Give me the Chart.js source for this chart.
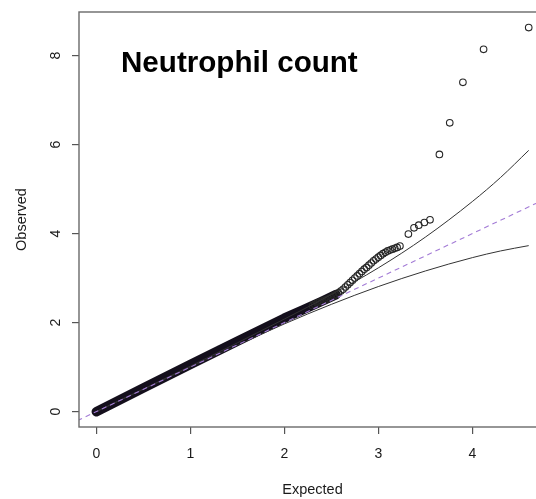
<!DOCTYPE html>
<html>
<head>
<meta charset="utf-8">
<title>Neutrophil count QQ plot</title>
<script src="https://cdn.jsdelivr.net/npm/chart.js@4/dist/chart.umd.min.js"></script>
<style>
  html, body { margin: 0; padding: 0; background: #ffffff; overflow: hidden; }
  #wrap { width: 536px; height: 499px; overflow: hidden; }
</style>
</head>
<body>
<div id="wrap"><canvas id="qq" width="560" height="499"></canvas></div>
<script>
// QQ plot data (expected vs observed -log10 p)

var xTickValues = [0, 1, 2, 3, 4];
var yTickValues = [0, 2, 4, 6, 8];

// solid dense stretch of overlapping points near the diagonal
var bandX = [0.00, 0.50, 1.00, 1.50, 2.00, 2.20, 2.40, 2.55];
var bandY = [0.00, 0.53, 1.06, 1.58, 2.10, 2.29, 2.48, 2.63];

// individual points where they start to separate
var pointX = [2.30, 2.325, 2.35, 2.375, 2.40, 2.425, 2.45, 2.475, 2.50, 2.525, 2.55, 2.575,
  2.60, 2.625, 2.65, 2.675, 2.70, 2.725, 2.75, 2.775, 2.80, 2.825, 2.85, 2.875, 2.90,
  2.925, 2.95, 2.975, 3.00, 3.025, 3.05, 3.075, 3.10, 3.125, 3.15, 3.175, 3.20, 3.23,
  3.32, 3.38, 3.43, 3.49, 3.55, 3.65, 3.76, 3.90, 4.12, 4.60];
var pointY = [2.38, 2.41, 2.44, 2.46, 2.48, 2.50, 2.52, 2.54, 2.57, 2.60, 2.63, 2.67,
  2.71, 2.75, 2.80, 2.85, 2.90, 2.95, 3.00, 3.05, 3.10, 3.15, 3.20, 3.24, 3.29,
  3.34, 3.39, 3.43, 3.47, 3.51, 3.55, 3.58, 3.61, 3.63, 3.65, 3.67, 3.69, 3.72,
  3.99, 4.13, 4.19, 4.25, 4.31, 5.78, 6.49, 7.40, 8.14, 8.63];

// confidence band curves
var upperX = [0.00, 1.00, 2.00, 2.50, 3.00, 3.50, 4.00, 4.30, 4.60];
var upperY = [0.00, 1.02, 2.08, 2.63, 3.23, 3.92, 4.72, 5.26, 5.87];
var lowerX = [0.00, 1.00, 2.00, 2.50, 3.00, 3.50, 4.00, 4.30, 4.60];
var lowerY = [0.00, 1.00, 1.97, 2.41, 2.81, 3.16, 3.46, 3.61, 3.73];

// y = x reference line
var diagX = [-0.2, 4.8];
var diagY = [-0.2, 4.8];

var xMin = -0.184, xMax = 4.784;
var yMin = -0.345, yMax = 8.979;

var FONT = '"Liberation Sans", Arial, Helvetica, sans-serif';
var textColor = '#1a1a1a';

function toPoints(xs, ys) {
  var out = [];
  for (var i = 0; i < xs.length; i++) {
    out.push({ x: xs[i], y: ys[i] });
  }
  return out;
}

// box, rotated y labels, axis titles and the in-plot title
var decorPlugin = {
  id: 'decor',
  afterDraw: function(chart) {
    var ctx = chart.ctx;
    var area = chart.chartArea;
    var yScale = chart.scales.y;

    ctx.save();
    ctx.strokeStyle = '#6a6a6a';
    ctx.lineWidth = 1.4;
    ctx.strokeRect(area.left, area.top, area.right - area.left, area.bottom - area.top);

    ctx.fillStyle = textColor;
    ctx.font = '14px ' + FONT;
    ctx.textAlign = 'center';
    ctx.textBaseline = 'alphabetic';
    yTickValues.forEach(function(v) {
      var py = yScale.getPixelForValue(v);
      ctx.save();
      ctx.translate(60, py);
      ctx.rotate(-Math.PI / 2);
      ctx.fillText(String(v), 0, 0);
      ctx.restore();
    });

    ctx.font = '14.5px ' + FONT;
    ctx.save();
    ctx.translate(25.5, (area.top + area.bottom) / 2);
    ctx.rotate(-Math.PI / 2);
    ctx.fillText('Observed', 0, 0);
    ctx.restore();

    ctx.fillText('Expected', (area.left + area.right) / 2, 493.5);

    ctx.font = 'bold 29.6px ' + FONT;
    ctx.textAlign = 'left';
    ctx.fillStyle = '#000000';
    ctx.fillText('Neutrophil count', 121, 71.7);
    ctx.restore();
  }
};

var ctx = document.getElementById('qq');

var chart = new Chart(ctx, {
  type: 'scatter',
  data: {
    datasets: [{
      label: 'y = x',
      type: 'line',
      data: toPoints(diagX, diagY),
      borderColor: '#a37bd6',
      borderWidth: 1.1,
      borderDash: [5, 4],
      pointRadius: 0,
      fill: false,
      order: 0
    }, {
      label: 'upper',
      type: 'line',
      data: toPoints(upperX, upperY),
      borderColor: '#333333',
      borderWidth: 1,
      pointRadius: 0,
      cubicInterpolationMode: 'monotone',
      fill: false,
      order: 1
    }, {
      label: 'lower',
      type: 'line',
      data: toPoints(lowerX, lowerY),
      borderColor: '#333333',
      borderWidth: 1,
      pointRadius: 0,
      cubicInterpolationMode: 'monotone',
      fill: false,
      order: 1
    }, {
      label: 'points',
      data: toPoints(pointX, pointY),
      pointRadius: 3.3,
      pointBorderWidth: 1.1,
      pointBorderColor: '#262626',
      pointBackgroundColor: 'rgba(0,0,0,0)',
      order: 2
    }, {
      label: 'dense',
      type: 'line',
      data: toPoints(bandX, bandY),
      borderColor: '#140f1c',
      borderWidth: 9.5,
      borderCapStyle: 'round',
      borderJoinStyle: 'round',
      pointRadius: 0,
      fill: false,
      order: 3
    }]
  },
  options: {
    responsive: false,
    animation: false,
    events: [],
    layout: { padding: { top: 12, right: 14, left: 0, bottom: 0 } },
    plugins: {
      legend: { display: false },
      tooltip: { enabled: false }
    },
    scales: {
      x: {
        type: 'linear',
        min: xMin,
        max: xMax,
        afterBuildTicks: function(scale) {
          scale.ticks = xTickValues.map(function(v) { return { value: v }; });
        },
        afterFit: function(scale) { scale.height = 72; },
        border: { display: false },
        grid: {
          drawOnChartArea: false,
          drawTicks: true,
          tickLength: 7,
          tickColor: '#555555',
          lineWidth: 1.2
        },
        ticks: {
          color: textColor,
          font: { family: FONT, size: 14 },
          padding: 12,
          maxRotation: 0
        }
      },
      y: {
        type: 'linear',
        min: yMin,
        max: yMax,
        afterBuildTicks: function(scale) {
          scale.ticks = yTickValues.map(function(v) { return { value: v }; });
        },
        afterFit: function(scale) { scale.width = 79; },
        border: { display: false },
        grid: {
          drawOnChartArea: false,
          drawTicks: true,
          tickLength: 7,
          tickColor: '#555555',
          lineWidth: 1.2
        },
        ticks: {
          color: 'rgba(0,0,0,0)',
          font: { family: FONT, size: 14 }
        }
      }
    }
  },
  plugins: [decorPlugin]
});
</script>
</body>
</html>
